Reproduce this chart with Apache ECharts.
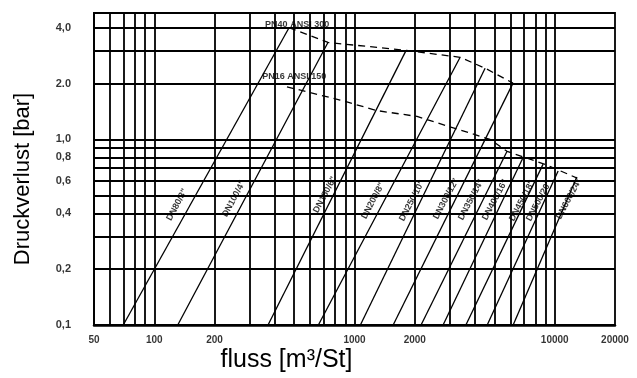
<!DOCTYPE html>
<html>
<head>
<meta charset="utf-8">
<script src="https://cdn.jsdelivr.net/npm/echarts@6/dist/echarts.min.js"></script>
<style>
html, body { margin: 0; padding: 0; background: #fff; }
#chart { width: 637px; height: 378px; }
</style>
</head>
<body>
<div id="chart"></div>
<script>
// Achsen: fluss [m3/St] (log) / Druckverlust [bar] (log)
var xTicks = [50, 100, 200, 1000, 2000, 10000, 20000];
var xTickText = ['50', '100', '200', '1000', '2000', '10000', '20000'];
var yTicks = [0.1, 0.2, 0.4, 0.6, 0.8, 1, 2, 4];
var yTickText = ['0,1', '0,2', '0,4', '0,6', '0,8', '1,0', '2.0', '4,0'];

// Gitterlinien
var xGrid = [60, 70, 80, 90, 100, 200, 300, 400, 500, 600, 700, 800, 900, 1000,
	2000, 3000, 4000, 5000, 6000, 7000, 8000, 9000, 10000];
var yGrid = [0.2, 0.3, 0.4, 0.5, 0.6, 0.7, 0.8, 0.9, 1, 2, 3, 4];

// Nennweiten: Anfang bei 0,1 bar, Ende an der PN-Grenze
var dnNames = ['DN80/3"', 'DN100/4"', 'DN150/6"', 'DN200/8"', 'DN250/10"', 'DN300/12"',
	'DN350/14"', 'DN400/16"', 'DN450/18"', 'DN500/20"', 'DN600/24"'];
var dnStartQ = [70, 131, 370, 660, 1070, 1560, 2150, 2770, 3600, 4600, 6200];
var dnEndQ = [471, 737, 1810, 3370, 4490, 6190, 5780, 6950, 8750, 10400, 12900];
var dnEndP = [4.0, 3.33, 3.02, 2.77, 2.42, 2.01, 0.863, 0.80, 0.736, 0.675, 0.627];
var dnLabelQ = [130, 250, 712, 1238, 1937, 2865, 3820, 5035, 6869, 8352, 11790];
var dnLabelP = [0.445, 0.479, 0.503, 0.467, 0.467, 0.479, 0.473, 0.473, 0.467, 0.467, 0.479];

// Druckstufen (gestrichelt)
var pnNames = ['PN40 ANSI 300', 'PN16 ANSI 150'];
var pn40Q = [471, 737, 1810, 3370, 4490, 6190];
var pn40P = [4.0, 3.33, 3.02, 2.77, 2.42, 2.01];
var pn16Q = [460, 847, 1296, 2052, 4753, 5780, 9155, 12930];
var pn16P = [1.92, 1.63, 1.43, 1.33, 1.0, 0.863, 0.727, 0.619];
var pnLabelQ = [517, 500];
var pnLabelP = [4.18, 2.19];

var X_MIN = 50, X_MAX = 20000, Y_MIN = 0.1, Y_MAX = 4.8;
var FONT = '"Liberation Sans", Arial, sans-serif';

function pairs(qs, ps) {
	return qs.map(function(q, i) { return [q, ps[i]]; });
}

var chart = echarts.init(document.getElementById('chart'), null, { renderer: 'canvas' });

var series = [];

/* Gitter */
series.push({
	type: 'line',
	data: [],
	silent: true,
	markLine: {
		silent: true,
		symbol: 'none',
		label: { show: false },
		lineStyle: { color: '#000', width: 1.8, type: 'solid' },
		data: xGrid.map(function(v) { return { xAxis: v }; })
			.concat(yGrid.map(function(v) { return { yAxis: v }; }))
	}
});

/* Nennweiten-Linien */
dnNames.forEach(function(name, i) {
	series.push({
		name: name,
		type: 'line',
		symbol: 'none',
		silent: true,
		lineStyle: { color: '#000', width: 1.3 },
		data: [[dnStartQ[i], Y_MIN], [dnEndQ[i], dnEndP[i]]]
	});
});

/* Beschriftung der Nennweiten */
series.push({
	type: 'scatter',
	symbolSize: 0,
	silent: true,
	label: {
		show: true,
		position: 'inside',
		rotate: 62,
		color: '#000',
		fontSize: 9,
		fontWeight: 'bold',
		fontFamily: FONT,
		formatter: function(p) { return dnNames[p.dataIndex]; }
	},
	data: pairs(dnLabelQ, dnLabelP)
});

/* PN40 / PN16 */
[pairs(pn40Q, pn40P), pairs(pn16Q, pn16P)].forEach(function(d) {
	series.push({
		type: 'line',
		symbol: 'none',
		silent: true,
		lineStyle: { color: '#000', width: 1.3, type: [7, 5] },
		data: d
	});
});
series.push({
	type: 'scatter',
	symbolSize: 0,
	silent: true,
	label: {
		show: true,
		position: 'inside',
		color: '#000',
		fontSize: 9,
		fontWeight: 'bold',
		fontFamily: FONT,
		formatter: function(p) { return pnNames[p.dataIndex]; }
	},
	data: pairs(pnLabelQ, pnLabelP)
});

/* Achsenbeschriftung */
series.push({
	type: 'scatter',
	symbolSize: 0,
	silent: true,
	clip: false,
	label: {
		show: true, position: 'bottom', distance: 10,
		color: '#000', fontSize: 10, fontWeight: 'bold', fontFamily: FONT,
		formatter: function(p) { return xTickText[p.dataIndex]; }
	},
	data: xTicks.map(function(v) { return [v, Y_MIN]; })
});
series.push({
	type: 'scatter',
	symbolSize: 0,
	silent: true,
	clip: false,
	label: {
		show: true, position: 'left', distance: 23,
		color: '#000', fontSize: 11, fontWeight: 'bold', fontFamily: FONT,
		formatter: function(p) { return yTickText[p.dataIndex]; }
	},
	data: yTicks.map(function(v) { return [X_MIN, v]; })
});

var option = {
	backgroundColor: '#fff',
	animation: false,
	grid: {
		show: true,
		left: 94, top: 13, right: 22, bottom: 51,
		borderColor: '#000', borderWidth: 1.8,
		backgroundColor: '#fff'
	},
	xAxis: {
		type: 'log',
		logBase: 10,
		min: X_MIN,
		max: X_MAX,
		name: 'fluss [m³/St]',
		nameLocation: 'middle',
		nameGap: 23,
		nameTextStyle: {
			color: '#000', fontSize: 25, fontFamily: FONT,
			padding: [0, 136, 0, 0]
		},
		axisLine: { show: true, lineStyle: { color: '#000', width: 2.5 } },
		axisTick: { show: false },
		axisLabel: { show: false },
		splitLine: { show: false },
		minorSplitLine: { show: false }
	},
	yAxis: {
		type: 'log',
		logBase: 10,
		min: Y_MIN,
		max: Y_MAX,
		name: 'Druckverlust [bar]',
		nameLocation: 'middle',
		nameGap: 60,
		nameTextStyle: {
			color: '#000', fontSize: 22, fontFamily: FONT,
			padding: [0, 20, 0, 0]
		},
		axisLine: { show: true, lineStyle: { color: '#000', width: 1.8 } },
		axisTick: { show: false },
		axisLabel: { show: false },
		splitLine: { show: false }
	},
	series: series
};

chart.setOption(option);
</script>
</body>
</html>
